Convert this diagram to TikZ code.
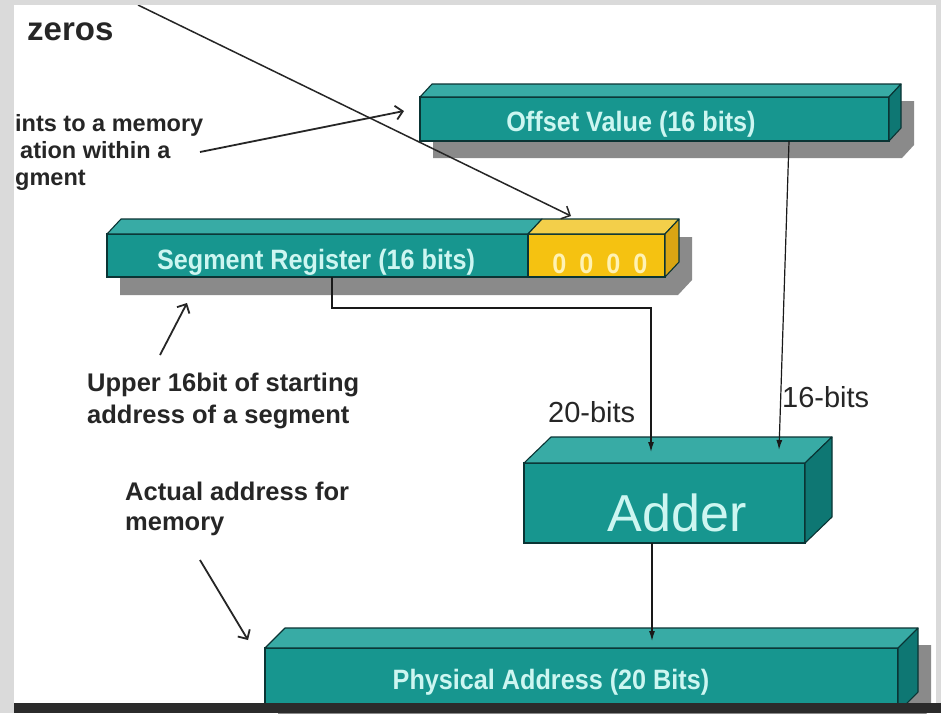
\documentclass[tikz,border=0pt]{standalone}
\usepackage{fontspec}
\setmainfont{Liberation Sans}
\newfontfamily\lblfont[FakeStretch=0.9]{Liberation Sans}
\usetikzlibrary{calc,arrows.meta,backgrounds}
\definecolor{tealF}{HTML}{17968F}
\definecolor{tealT}{HTML}{38ABA5}
\definecolor{tealS}{HTML}{0E7773}
\definecolor{edgec}{HTML}{0A3434}
\definecolor{yelF}{HTML}{F5C211}
\definecolor{yelT}{HTML}{F3CF4A}
\definecolor{yelS}{HTML}{D9A513}
\definecolor{lblc}{HTML}{CDF6F1}
\definecolor{zerotxt}{HTML}{FFF2B3}
\definecolor{shadowc}{HTML}{8A8A8A}
\definecolor{ink}{HTML}{262626}
\definecolor{framec}{HTML}{DADADA}
\definecolor{bandc}{HTML}{2B2B2B}
\newcommand\mkslab[5]{%
  \filldraw[fill=#4, draw=edgec, line width=1.1pt, line join=round]
    (#1.north west) -- ++(#2,-#3) -- ($(#1.north east)+(#2,-#3)$) -- (#1.north east) -- cycle;
  \filldraw[fill=#5, draw=edgec, line width=1.1pt, line join=round]
    (#1.north east) -- ++(#2,-#3) -- ($(#1.south east)+(#2,-#3)$) -- (#1.south east) -- cycle;
}
\newcommand\mkshadow[5]{% west node, east node, dx, dy, shift
  \begin{scope}[on background layer]
  \fill[shadowc]
    ($(#1.north west)+(#5)$) -- ($(#1.north west)+(#5)+(#3,-#4)$) --
    ($(#2.north east)+(#5)+(#3,-#4)$) -- ($(#2.south east)+(#5)+(#3,-#4)$) --
    ($(#2.south east)+(#5)$) -- ($(#1.south west)+(#5)$) -- cycle;
  \end{scope}
}
\tikzset{
  frontbox/.style={draw=edgec, line width=1.1pt, inner sep=0pt, outer sep=0pt},
  boxlbl/.style={inner sep=0pt, text=lblc, font=\lblfont\bfseries\fontsize{28}{30}\selectfont},
  note/.style={inner sep=0pt, anchor=base west, text=ink, font=\bfseries\fontsize{25.5}{28}\selectfont},
  smallnote/.style={note, font=\bfseries\fontsize{23.5}{28}\selectfont},
  bitlbl/.style={inner sep=0pt, anchor=base west, text=ink, font=\fontsize{29}{32}\selectfont},
  conn/.style={draw=black!90, line width=1.2pt, -{Latex[length=10pt,width=6pt]}},
  annot/.style={draw=ink, line width=1.8pt, -{Straight Barb[length=7pt,width=14pt]}},
}
\begin{document}
\begin{tikzpicture}[x=1pt,y=-1pt]
\useasboundingbox (0,0) rectangle (941,713);
\begin{scope}[on background layer]
  \fill[white] (0,0) rectangle (941,713);
\end{scope}

% boxes
\node[frontbox, fill=tealF, minimum width=469pt, minimum height=44pt] (off) at (654.5,119) {};
\mkshadow{off}{off}{12}{13}{13,17}
\mkslab{off}{12}{13}{tealT}{tealS}

\node[frontbox, fill=tealF, minimum width=421pt, minimum height=43pt] (segA) at (317.5,255.5) {};
\node[frontbox, fill=yelF, minimum width=137pt, minimum height=43pt] (segB) at (596.5,255.5) {};
\mkshadow{segA}{segB}{14}{15}{13,18}
\filldraw[fill=tealT, draw=edgec, line width=1.1pt, line join=round]
  (segA.north west) -- ++(14,-15) -- ($(segA.north east)+(14,-15)$) -- (segA.north east) -- cycle;
\mkslab{segB}{14}{15}{yelT}{yelS}

\node[frontbox, fill=tealF, minimum width=281pt, minimum height=80pt] (add) at (664.5,503) {};
\mkslab{add}{27}{26}{tealT}{tealS}

\node[frontbox, fill=tealF, minimum width=633pt, minimum height=64pt] (phys) at (581.5,680) {};
\mkshadow{phys}{phys}{20}{20}{13,17}
\mkslab{phys}{20}{20}{tealT}{tealS}

% box labels
\node[boxlbl] (offT) at (631,124) {Offset Value (16 bits)};
\node[boxlbl] (segT) at (316,262) {Segment Register (16 bits)};
\node[boxlbl, text=zerotxt] (zeroT) at (600,264) {0\hspace{13pt}0\hspace{13pt}0\hspace{13pt}0};
\node[boxlbl] (physT) at (551,682) {Physical Address (20 Bits)};
\node[inner sep=0pt, text=lblc, font=\fontsize{52}{56}\selectfont] (addT) at (677,513) {Adder};

% annotation texts
\node[inner sep=0pt, anchor=base west, text=ink, font=\bfseries\fontsize{33}{36}\selectfont] (zerosT) at (27,40) {zeros};
\node[smallnote] (n1a) at (15,131) {ints to a memory};
\node[smallnote] (n1b) at (20,158) {ation within a};
\node[smallnote] (n1c) at (15,185) {gment};
\node[note] (n2a) at (87,391) {Upper 16bit of starting};
\node[note] (n2b) at (87,423) {address of a segment};
\node[note] (n3a) at (125,500) {Actual address for};
\node[note] (n3b) at (125,530) {memory};
\node[bitlbl] (b20) at (548,422) {20-bits};
\node[bitlbl] (b16) at (782,407) {16-bits};

% coordinates
\coordinate (s1) at (332,277);
\coordinate (s2) at (332,308);
\coordinate (s3) at (651,308);
\coordinate (s4) at (651,452);
\coordinate (o1) at (789,141);
\coordinate (o2) at (779,450);
\coordinate (d1) at (652,543);
\coordinate (d2) at (652,641);
\coordinate (l1) at (138,5);
\coordinate (l2) at (571,216);
\coordinate (p1) at (200,152);
\coordinate (p2) at (404,111);
\coordinate (u1) at (160,355);
\coordinate (u2) at (187,303);
\coordinate (m1) at (200,560);
\coordinate (m2) at (248,640);

% connectors
\draw[conn] (s1) -- (s2) -- (s3) -- (s4);
\draw[conn] (o1) -- (o2);
\draw[conn] (d1) -- (d2);
\draw[annot, line width=1.5pt] (l1) -- (l2);
\draw[annot] (p1) -- (p2);
\draw[annot] (u1) -- (u2);
\draw[annot] (m1) -- (m2);

% frame
\fill[framec] (0,0) rectangle (14,713);
\fill[framec] (0,0) rectangle (941,5);
\fill[framec] (936,0) rectangle (941,713);
\fill[bandc] (14,703) rectangle (941,713);
\end{tikzpicture}
\end{document}
